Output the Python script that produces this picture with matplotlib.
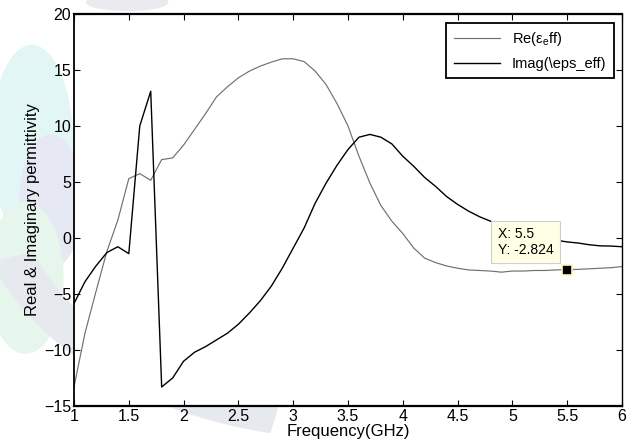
import numpy as np
import matplotlib
matplotlib.use("Agg")
import matplotlib.pyplot as plt
from matplotlib.patches import Ellipse, Wedge

plt.rcParams["font.family"] = ["Liberation Sans", "DejaVu Sans"]
plt.rcParams["mathtext.fontset"] = "custom"
plt.rcParams["mathtext.rm"] = "Liberation Sans"
plt.rcParams["mathtext.it"] = "Liberation Sans"

# frequency grid (GHz), sampled every 0.1
freq = [1.0, 1.1, 1.2, 1.3, 1.4, 1.5, 1.6, 1.7, 1.8, 1.9,
        2.0, 2.1, 2.2, 2.3, 2.4, 2.5, 2.6, 2.7, 2.8, 2.9,
        3.0, 3.1, 3.2, 3.3, 3.4, 3.5, 3.6, 3.7, 3.8, 3.9,
        4.0, 4.1, 4.2, 4.3, 4.4, 4.5, 4.6, 4.7, 4.8, 4.9,
        5.0, 5.1, 5.2, 5.3, 5.4, 5.5, 5.6, 5.7, 5.8, 5.9, 6.0]
eps_re = [-13.3, -8.5, -4.8, -1.2, 1.6, 5.3, 5.75, 5.15, 7.0, 7.15,
          8.3, 9.7, 11.1, 12.6, 13.5, 14.3, 14.9, 15.35, 15.7, 16.0,
          16.0, 15.75, 14.9, 13.7, 12.0, 10.0, 7.3, 4.9, 2.9, 1.5,
          0.4, -0.9, -1.8, -2.2, -2.5, -2.7, -2.85, -2.9, -2.95, -3.05,
          -2.95, -2.95, -2.9, -2.9, -2.85, -2.824, -2.8, -2.75, -2.7, -2.65, -2.55]
eps_im = [-5.85, -3.9, -2.5, -1.3, -0.78, -1.4, 10.0, 13.1, -13.3, -12.5,
          -11.0, -10.2, -9.7, -9.1, -8.5, -7.7, -6.7, -5.6, -4.3, -2.7,
          -0.9, 0.9, 3.1, 4.9, 6.5, 7.9, 9.0, 9.25, 9.0, 8.4,
          7.3, 6.4, 5.4, 4.6, 3.7, 3.0, 2.4, 1.9, 1.5, 1.1,
          0.75, 0.4, 0.15, -0.05, -0.2, -0.35, -0.45, -0.6, -0.7, -0.72, -0.78]
tip_x, tip_y = 5.5, -2.824

fig = plt.figure(figsize=(6.36, 4.48), dpi=100)

# faint watermark shapes, kept behind everything
wm = dict(transform=fig.transFigure, zorder=-10, lw=0)
for p in [Ellipse((0.05, 0.68), 0.13, 0.44, color="#e3f6f6", **wm),
          Ellipse((0.08, 0.55), 0.10, 0.30, color="#e6e8f3", **wm),
          Ellipse((0.04, 0.38), 0.12, 0.34, color="#e7f6ec", **wm),
          Wedge((0.55, 0.62), 0.60, 200, 258, width=0.07, color="#e6e9ee", **wm),
          Ellipse((0.2, 0.995), 0.13, 0.04, color="#e9ebee", **wm)]:
    fig.add_artist(p)

ax = fig.add_axes([74 / 636, 1 - 406 / 448, 548 / 636, 392 / 448])
ax.set_facecolor("white")
ax.plot(freq, eps_re, color="#707070", lw=0.85, label=r"Re($\varepsilon_{e}$ff)")
ax.plot(freq, eps_im, color="black", lw=1.0, label=r"Imag(\eps_eff)")

ax.set_xlim(1, 6)
ax.set_ylim(-15, 20)
ax.set_xticks(np.arange(1, 6.01, 0.5))
ax.set_xticklabels(["1", "1.5", "2", "2.5", "3", "3.5", "4", "4.5", "5", "5.5", "6"])
ax.set_yticks(np.arange(-15, 20.1, 5))
ax.tick_params(direction="in", top=True, right=True, length=4, width=0.8,
               labelsize=11.5, pad=2)
for s in ax.spines.values():
    s.set_linewidth(1.0)
ax.spines["top"].set_linewidth(1.6)
ax.spines["bottom"].set_linewidth(1.6)
ax.spines["left"].set_linewidth(1.3)

ax.set_xlabel("Frequency(GHz)", fontsize=12, labelpad=0)
ax.set_ylabel("Real & Imaginary permittivity", fontsize=12, labelpad=3)

leg = ax.legend(loc="upper right", bbox_to_anchor=(0.985, 0.977), fontsize=10.5,
                fancybox=False, framealpha=1, edgecolor="black",
                handlelength=3.2, borderpad=0.5, labelspacing=0.6,
                borderaxespad=0)
leg.get_frame().set_linewidth(1.3)

# data tip
ax.plot([tip_x], [tip_y], marker="s", ms=7, color="black", mec="#fff6b0",
        mew=1.2, zorder=5)
ax.annotate(f"X: {tip_x:g}\nY: {tip_y:g}", xy=(tip_x, tip_y),
            xytext=(-30, 20), textcoords="offset points", ha="center",
            va="center", multialignment="left", fontsize=10, linespacing=1.2,
            bbox=dict(boxstyle="square,pad=0.45", fc="#ffffe6", ec="#cfcfcf",
                      lw=0.8))

fig.savefig("out.png", dpi=100)
